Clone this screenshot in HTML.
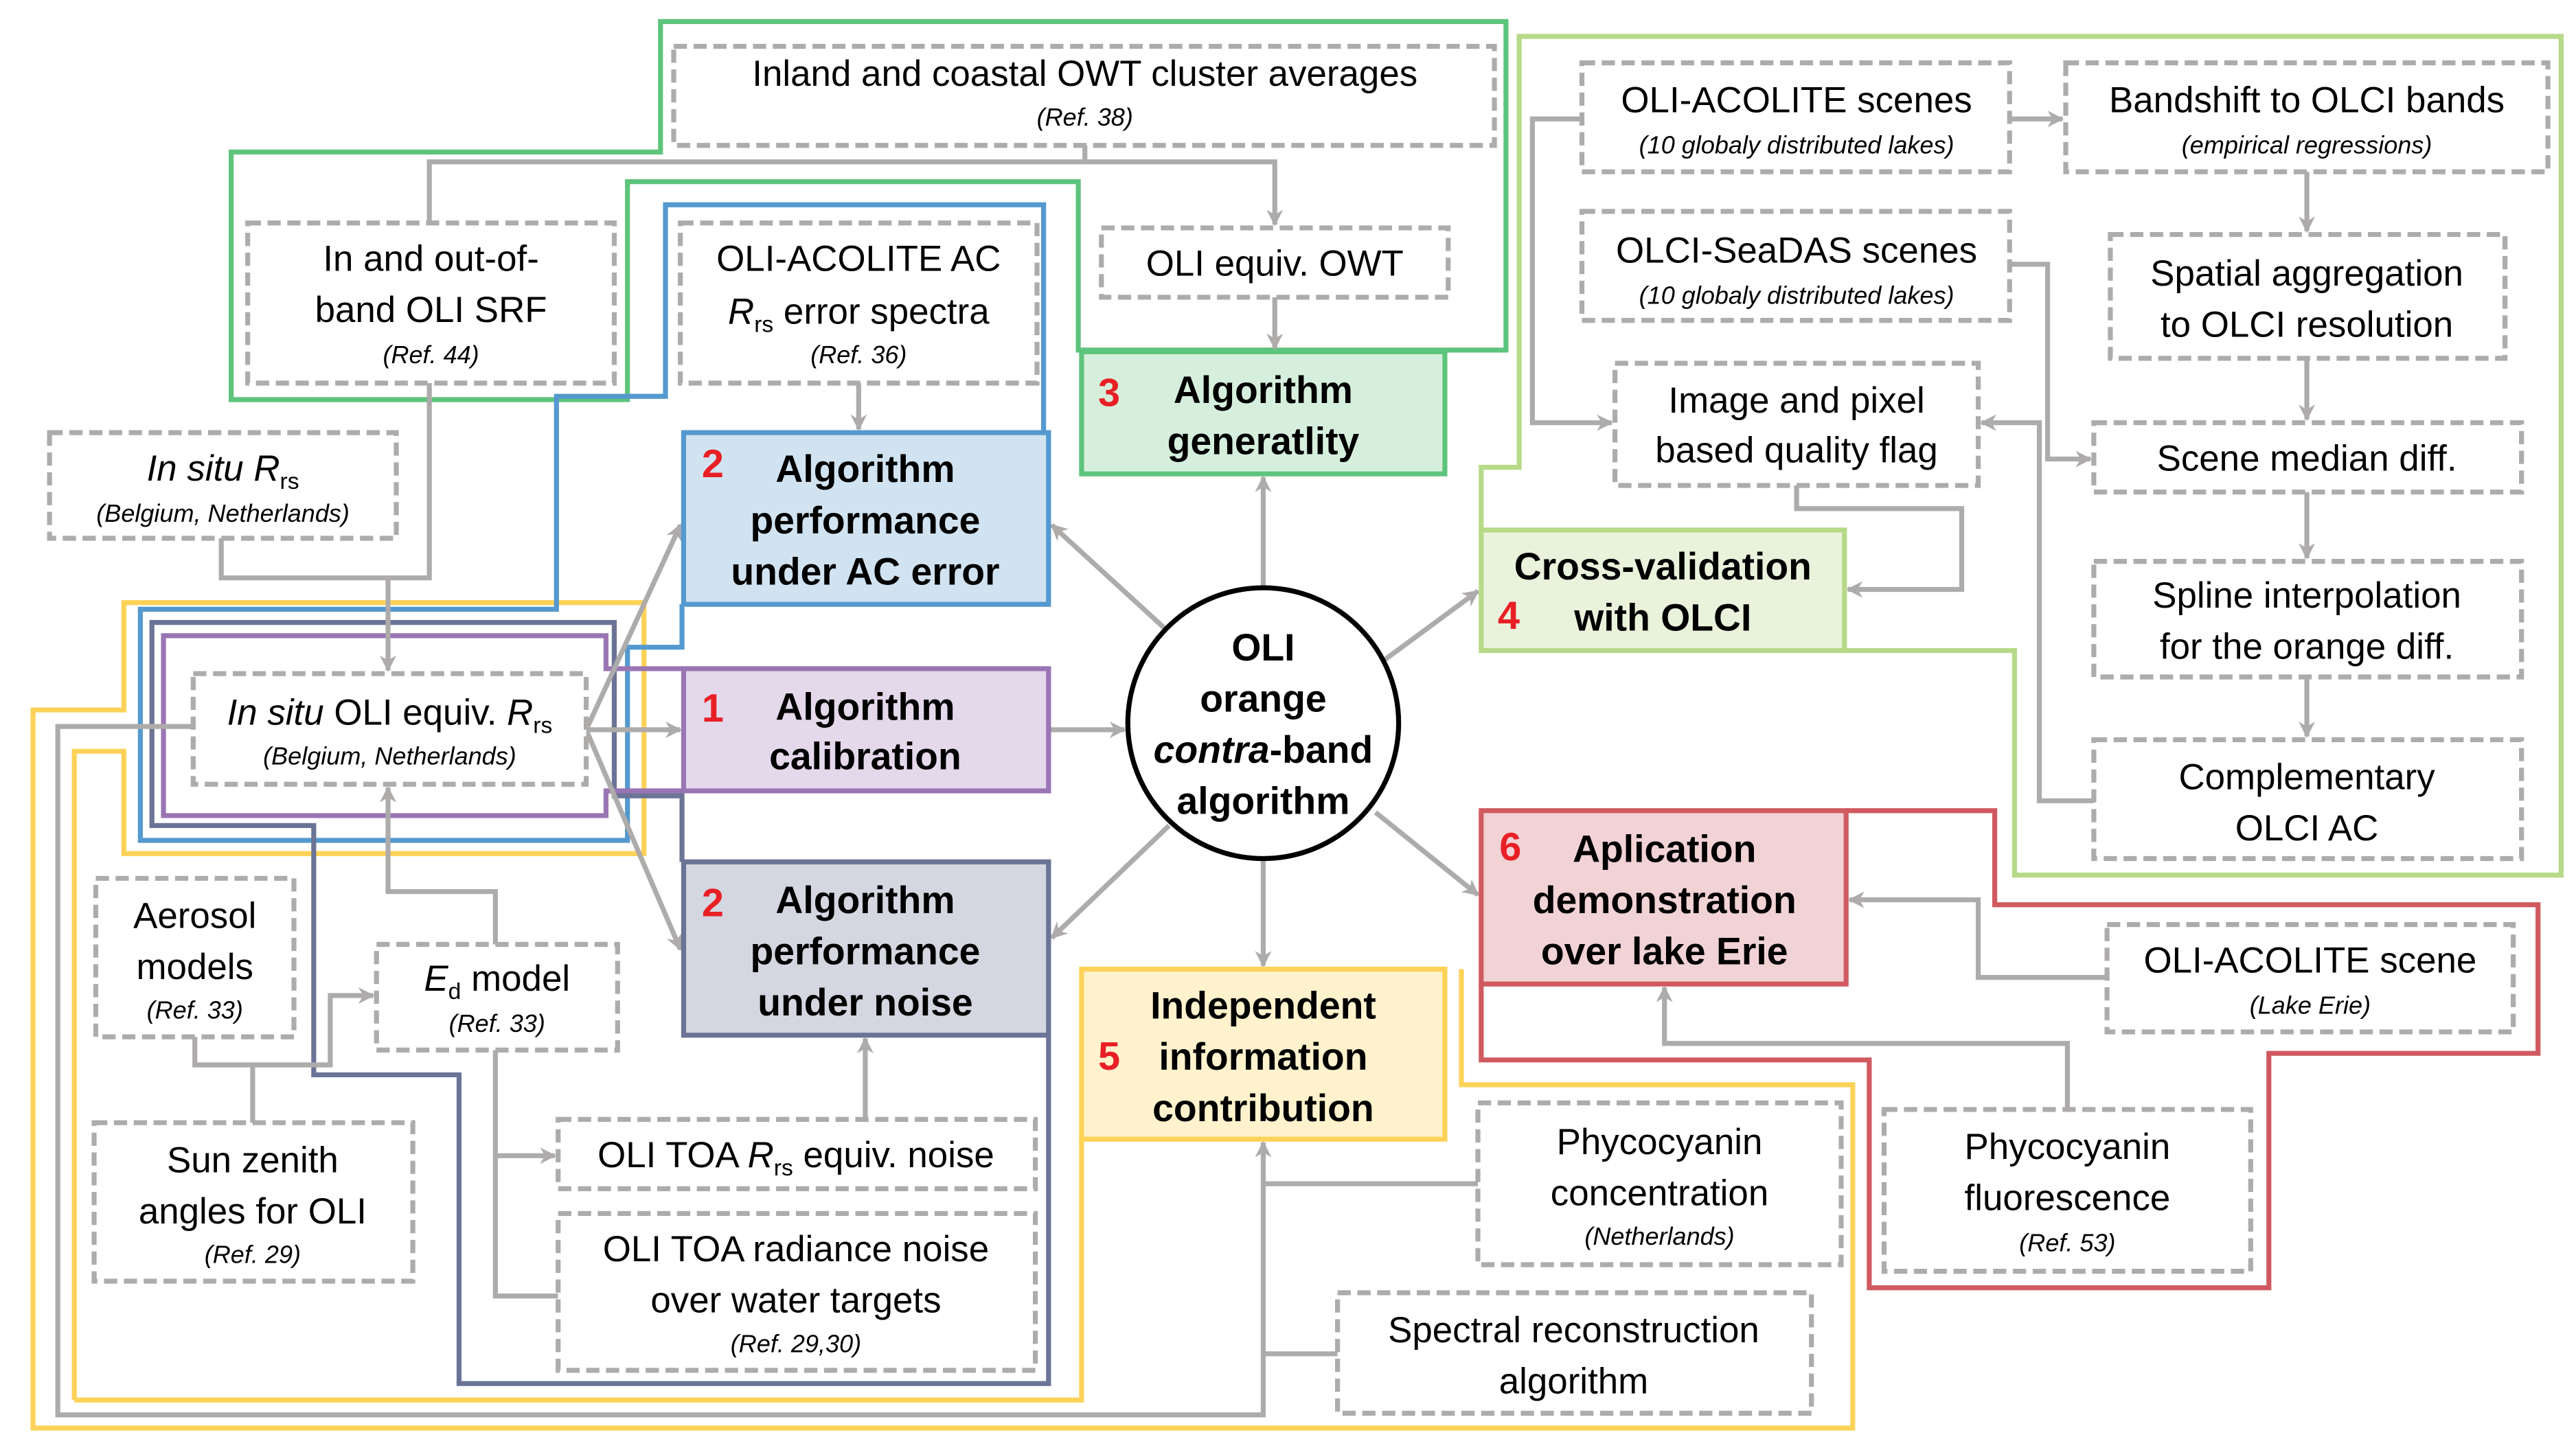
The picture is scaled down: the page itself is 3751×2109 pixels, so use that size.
<!DOCTYPE html>
<html><head><meta charset="utf-8"><style>
html,body{margin:0;padding:0;background:#fff}
svg{display:block}
text{font-family:"Liberation Sans",sans-serif;fill:#000}
.t{font-size:22px}
.s{font-size:15px;font-style:italic}
.b{font-size:23px;font-weight:bold}
.n{font-size:24px;font-weight:bold;fill:#e82026}
</style></head><body>
<svg width="3751" height="2109" viewBox="0 0 1560 877" xmlns="http://www.w3.org/2000/svg">
<defs>
<marker id="a" markerWidth="10" markerHeight="10" refX="9" refY="5" orient="auto" markerUnits="userSpaceOnUse" viewBox="0 0 10 10">
<path d="M0,0 L10,5 L0,10 L3,5 Z" fill="#aeabab"/>
</marker>
</defs>
<g fill="none" stroke-width="3">
<!-- yellow -->
<path stroke="#fdd257" d="M45,848 L45,455 L75,455 L75,517 L390,517 L390,365 L75,365 L75,430 L20,430 L20,865 L1122,865 L1122,657 L885,657 L885,587 M45,848 L655,848 L655,690"/>
<!-- green -->
<path stroke="#5ec47c" d="M140,92 L400,92 L400,13 L912,13 L912,212 L653,212 L653,110 L380,110 L380,242 L140,242 Z"/>
<!-- blue -->
<path stroke="#5499cf" d="M632,262 L632,124 L403,124 L403,240 L337,240 L337,369 L85,369 L85,509 L380,509 L380,392 L413,392 L413,366"/>
<!-- navy -->
<path stroke="#6b7496" d="M413,522 L413,482 L372,482 L372,377 L92,377 L92,500 L190,500 L190,651 L278,651 L278,838 L635,838 L635,627"/>
<!-- purple -->
<path stroke="#9a75b4" d="M414,405 L367,405 L367,385 L99,385 L99,494 L367,494 L367,479 L414,479"/>
<!-- light green -->
<path stroke="#b6da88" d="M897,321 L897,283 L920,283 L920,22 L1551,22 L1551,530 L1220,530 L1220,394 L1117,394"/>
<!-- red -->
<path stroke="#d05a5f" d="M1118,491 L1208,491 L1208,548 L1537,548 L1537,638 L1374,638 L1374,780 L1132,780 L1132,642 L897,642 L897,596"/>
</g>
<g fill="none" stroke="#aeabab" stroke-width="3">
<path d="M657,88 L657,98 L260,98 L260,135 M657,98 L772,98 L772,136" marker-end="url(#a)"/>
<path d="M772,180 L772,211" marker-end="url(#a)"/>
<path d="M520,232 L520,260" marker-end="url(#a)"/>
<path d="M260,232 L260,350 L235,350 M134,326 L134,350 L235,350 L235,406" marker-end="url(#a)"/>
<path d="M355,442 L412,318" marker-end="url(#a)"/>
<path d="M355,442 L412,442" marker-end="url(#a)"/>
<path d="M355,442 L412,575" marker-end="url(#a)"/>
<path d="M117,440 L35,440 L35,857 L765,857 L765,692" marker-end="url(#a)"/>
<path d="M895,717 L765,717 M810,820 L765,820"/>
<path d="M300,572 L300,540 L235,540 L235,477" marker-end="url(#a)"/>
<path d="M118,628 L118,645 L200,645 L200,603 L226,603" marker-end="url(#a)"/>
<path d="M153,680 L153,645"/>
<path d="M300,636 L300,785 L338,785 M300,700 L336,700" marker-end="url(#a)"/>
<path d="M524,678 L524,629" marker-end="url(#a)"/>
<path d="M635,442 L681,442" marker-end="url(#a)"/>
<path d="M708,383 L637,318" marker-end="url(#a)"/>
<path d="M765,356 L765,289" marker-end="url(#a)"/>
<path d="M838,400 L895,358" marker-end="url(#a)"/>
<path d="M833,492 L895,542" marker-end="url(#a)"/>
<path d="M765,520 L765,585" marker-end="url(#a)"/>
<path d="M708,500 L637,568" marker-end="url(#a)"/>
<path d="M1217,72 L1249,72" marker-end="url(#a)"/>
<path d="M958,72 L928,72 L928,256 L976,256" marker-end="url(#a)"/>
<path d="M1397,104 L1397,140" marker-end="url(#a)"/>
<path d="M1397,217 L1397,254" marker-end="url(#a)"/>
<path d="M1397,298 L1397,338" marker-end="url(#a)"/>
<path d="M1397,410 L1397,446" marker-end="url(#a)"/>
<path d="M1217,160 L1240,160 L1240,278 L1266,278" marker-end="url(#a)"/>
<path d="M1268,485 L1235,485 L1235,256 L1200,256" marker-end="url(#a)"/>
<path d="M1088,294 L1088,308 L1188,308 L1188,357 L1119,357" marker-end="url(#a)"/>
<path d="M1276,592 L1198,592 L1198,545 L1120,545" marker-end="url(#a)"/>
<path d="M1252,672 L1252,632 L1008,632 L1008,598" marker-end="url(#a)"/>
</g>
<!-- dashed boxes -->
<g fill="#fff" stroke="#aeabab" stroke-width="3" stroke-dasharray="8,4">
<rect x="408" y="28" width="497" height="60"/>
<rect x="150" y="135" width="222" height="97"/>
<rect x="412" y="135" width="216" height="97"/>
<rect x="667" y="138" width="210" height="42"/>
<rect x="30" y="262" width="210" height="64"/>
<rect x="117" y="408" width="238" height="67"/>
<rect x="58" y="532" width="120" height="96"/>
<rect x="228" y="572" width="146" height="64"/>
<rect x="57" y="680" width="193" height="96"/>
<rect x="338" y="678" width="289" height="42"/>
<rect x="338" y="735" width="289" height="95"/>
<rect x="895" y="668" width="220" height="98"/>
<rect x="810" y="783" width="287" height="73"/>
<rect x="1141" y="672" width="222" height="98"/>
<rect x="1276" y="560" width="246" height="65"/>
<rect x="958" y="38" width="259" height="66"/>
<rect x="1251" y="38" width="292" height="66"/>
<rect x="958" y="128" width="259" height="66"/>
<rect x="1278" y="142" width="239" height="75"/>
<rect x="978" y="220" width="220" height="74"/>
<rect x="1268" y="256" width="259" height="42"/>
<rect x="1268" y="340" width="259" height="70"/>
<rect x="1268" y="448" width="259" height="72"/>
</g>
<!-- solid boxes -->
<g stroke-width="3">
<rect x="414" y="262" width="221" height="104" fill="#d1e3f1" stroke="#5499cf"/>
<rect x="655" y="213" width="220" height="74" fill="#d6efdd" stroke="#5ec47c"/>
<rect x="414" y="405" width="221" height="74" fill="#e4d8eb" stroke="#9a75b4"/>
<rect x="414" y="522" width="221" height="105" fill="#d4d6e0" stroke="#6b7496"/>
<rect x="897" y="321" width="220" height="73" fill="#e9f3dc" stroke="#b6da88"/>
<rect x="655" y="587" width="220" height="103" fill="#fff2cd" stroke="#fdd257"/>
<rect x="897" y="491" width="221" height="105" fill="#f1d2d5" stroke="#d05a5f"/>
<circle cx="765" cy="438" r="82" fill="#fff" stroke="#000" stroke-width="3"/>
</g>
<g text-anchor="middle">
<text class="t" x="657" y="52">Inland and coastal OWT cluster averages</text>
<text class="s" x="657" y="76">(Ref. 38)</text>
<text class="t" x="261" y="164">In and out-of-</text>
<text class="t" x="261" y="195">band OLI SRF</text>
<text class="s" x="261" y="220">(Ref. 44)</text>
<text class="t" x="520" y="164">OLI-ACOLITE AC</text>
<text class="t" x="520" y="196"><tspan font-style="italic">R</tspan><tspan font-size="14" dy="5">rs</tspan><tspan dy="-5"> error spectra</tspan></text>
<text class="s" x="520" y="220">(Ref. 36)</text>
<text class="t" x="772" y="167">OLI equiv. OWT</text>
<text class="t" x="135" y="291"><tspan font-style="italic">In situ R</tspan><tspan font-size="14" dy="5">rs</tspan></text>
<text class="s" x="135" y="316">(Belgium, Netherlands)</text>
<text class="t" x="236" y="439"><tspan font-style="italic">In situ</tspan> OLI equiv. <tspan font-style="italic">R</tspan><tspan font-size="14" dy="5">rs</tspan></text>
<text class="s" x="236" y="463">(Belgium, Netherlands)</text>
<text class="t" x="118" y="562">Aerosol</text>
<text class="t" x="118" y="593">models</text>
<text class="s" x="118" y="617">(Ref. 33)</text>
<text class="t" x="301" y="600"><tspan font-style="italic">E</tspan><tspan font-size="14" dy="5">d</tspan><tspan dy="-5"> model</tspan></text>
<text class="s" x="301" y="625">(Ref. 33)</text>
<text class="t" x="153" y="710">Sun zenith</text>
<text class="t" x="153" y="741">angles for OLI</text>
<text class="s" x="153" y="765">(Ref. 29)</text>
<text class="t" x="482" y="707">OLI TOA <tspan font-style="italic">R</tspan><tspan font-size="14" dy="5">rs</tspan><tspan dy="-5"> equiv. noise</tspan></text>
<text class="t" x="482" y="764">OLI TOA radiance noise</text>
<text class="t" x="482" y="795">over water targets</text>
<text class="s" x="482" y="819">(Ref. 29,30)</text>
<text class="t" x="1005" y="699">Phycocyanin</text>
<text class="t" x="1005" y="730">concentration</text>
<text class="s" x="1005" y="754">(Netherlands)</text>
<text class="t" x="953" y="813">Spectral reconstruction</text>
<text class="t" x="953" y="844">algorithm</text>
<text class="t" x="1252" y="702">Phycocyanin</text>
<text class="t" x="1252" y="733">fluorescence</text>
<text class="s" x="1252" y="758">(Ref. 53)</text>
<text class="t" x="1399" y="589">OLI-ACOLITE scene</text>
<text class="s" x="1399" y="614">(Lake Erie)</text>
<text class="t" x="1088" y="68">OLI-ACOLITE scenes</text>
<text class="s" x="1088" y="93">(10 globaly distributed lakes)</text>
<text class="t" x="1397" y="68">Bandshift to OLCI bands</text>
<text class="s" x="1397" y="93">(empirical regressions)</text>
<text class="t" x="1088" y="159">OLCI-SeaDAS scenes</text>
<text class="s" x="1088" y="184">(10 globaly distributed lakes)</text>
<text class="t" x="1397" y="173">Spatial aggregation</text>
<text class="t" x="1397" y="204">to OLCI resolution</text>
<text class="t" x="1088" y="250">Image and pixel</text>
<text class="t" x="1088" y="280">based quality flag</text>
<text class="t" x="1397" y="285">Scene median diff.</text>
<text class="t" x="1397" y="368">Spline interpolation</text>
<text class="t" x="1397" y="399">for the orange diff.</text>
<text class="t" x="1397" y="478">Complementary</text>
<text class="t" x="1397" y="509">OLCI AC</text>
<!-- solid box labels -->
<text class="b" x="524" y="292">Algorithm</text>
<text class="b" x="524" y="323">performance</text>
<text class="b" x="524" y="354">under AC error</text>
<text class="b" x="765" y="244">Algorithm</text>
<text class="b" x="765" y="275">generatlity</text>
<text class="b" x="524" y="436">Algorithm</text>
<text class="b" x="524" y="466">calibration</text>
<text class="b" x="524" y="553">Algorithm</text>
<text class="b" x="524" y="584">performance</text>
<text class="b" x="524" y="615">under noise</text>
<text class="b" x="1007" y="351">Cross-validation</text>
<text class="b" x="1007" y="382">with OLCI</text>
<text class="b" x="765" y="617">Independent</text>
<text class="b" x="765" y="648">information</text>
<text class="b" x="765" y="679">contribution</text>
<text class="b" x="1008" y="522">Aplication</text>
<text class="b" x="1008" y="553">demonstration</text>
<text class="b" x="1008" y="584">over lake Erie</text>
<text class="b" x="765" y="400">OLI</text>
<text class="b" x="765" y="431">orange</text>
<text class="b" x="765" y="462"><tspan font-style="italic">contra</tspan>-band</text>
<text class="b" x="765" y="493">algorithm</text>
</g>
<text class="n" x="425" y="289">2</text>
<text class="n" x="665" y="246">3</text>
<text class="n" x="425" y="437">1</text>
<text class="n" x="425" y="555">2</text>
<text class="n" x="907" y="381">4</text>
<text class="n" x="665" y="648">5</text>
<text class="n" x="908" y="521">6</text>
</svg>
</body></html>
